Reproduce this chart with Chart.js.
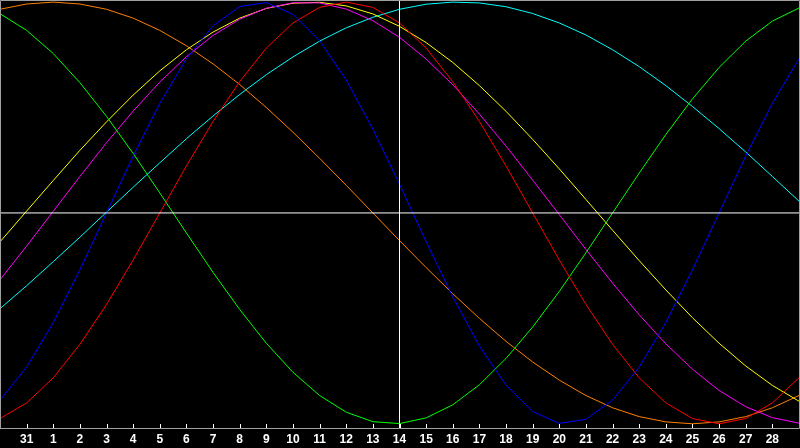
<!DOCTYPE html>
<html><head><meta charset="utf-8">
<script src="https://cdn.jsdelivr.net/npm/chart.js@4.4.1/dist/chart.umd.min.js"></script>
<style>
html,body{margin:0;padding:0;background:#000;overflow:hidden}
#wrap{width:800px;height:448px;position:relative;background:#000}
canvas{display:block}
</style>
</head><body>
<div id="wrap"><canvas id="c" width="800" height="448"></canvas></div>
<script>
const days = ['30','31','1','2','3','4','5','6','7','8','9','10','11','12','13','14','15','16','17','18','19','20','21','22','23','24','25','26','27','28','29'];
const today = '14';
const physical = [-0.888,-0.731,-0.520,-0.270,0,0.270,0.520,0.731,0.888,0.979,0.998,0.942,0.817,0.631,0.398,0.136,-0.136,-0.398,-0.631,-0.817,-0.942,-0.998,-0.979,-0.888,-0.731,-0.520,-0.270,0,0.270,0.520,0.731];
const emotional = [-0.975,-0.901,-0.782,-0.623,-0.434,-0.223,0,0.223,0.434,0.623,0.782,0.901,0.975,1,0.975,0.901,0.782,0.623,0.434,0.223,0,-0.223,-0.434,-0.623,-0.782,-0.901,-0.975,-1,-0.975,-0.901,-0.782];
const intellectual = [0.945,0.866,0.756,0.618,0.458,0.282,0.095,-0.095,-0.282,-0.458,-0.618,-0.756,-0.866,-0.945,-0.990,-0.999,-0.972,-0.910,-0.815,-0.690,-0.541,-0.372,-0.189,0,0.189,0.372,0.541,0.690,0.815,0.910,0.972];
const intuitive = [-0.317,-0.157,0.008,0.173,0.333,0.483,0.621,0.741,0.842,0.919,0.971,0.997,0.996,0.967,0.912,0.833,0.730,0.608,0.469,0.317,0.156,-0.008,-0.173,-0.333,-0.483,-0.621,-0.741,-0.842,-0.919,-0.971,-0.997];
const aesthetic = [-0.137,0.009,0.154,0.297,0.432,0.559,0.674,0.774,0.858,0.924,0.970,0.995,0.999,0.982,0.944,0.885,0.808,0.714,0.604,0.482,0.349,0.209,0.064,-0.082,-0.226,-0.365,-0.497,-0.618,-0.726,-0.818,-0.893];
const awareness = [0.966,0.991,1,0.991,0.966,0.924,0.866,0.793,0.707,0.609,0.5,0.383,0.259,0.131,0,-0.131,-0.259,-0.383,-0.5,-0.609,-0.707,-0.793,-0.866,-0.924,-0.966,-0.991,-1,-0.991,-0.966,-0.924,-0.866];
const spiritual = [-0.454,-0.345,-0.231,-0.115,0.004,0.122,0.238,0.352,0.460,0.562,0.656,0.740,0.815,0.878,0.928,0.966,0.990,1.000,0.996,0.978,0.946,0.901,0.844,0.774,0.694,0.604,0.505,0.400,0.289,0.173,0.056];

const Y_MIN = -1.02, Y_MAX = 1.01;
const GRAY = '#a0a0a0';

function curve(data, color) {
  return {type:'line', data, borderColor:color, borderWidth:1, pointRadius:0, pointHoverRadius:0, tension:0, fill:false};
}

const datasets = [
  {type:'line', data:[{x:days[0],y:0},{x:days[days.length-1],y:0}], borderColor:'#ffffff', borderWidth:1, pointRadius:0, pointHoverRadius:0},
  {type:'line', data:[{x:today,y:Y_MIN},{x:today,y:Y_MAX}], borderColor:'#ffffff', borderWidth:1, pointRadius:0, pointHoverRadius:0},
  curve(physical, '#0000ff'),
  curve(emotional, '#ff0000'),
  curve(intellectual, '#00ff00'),
  curve(intuitive, '#ff00ff'),
  curve(aesthetic, '#ffff00'),
  curve(awareness, '#ff8000'),
  curve(spiritual, '#00ffff')
];

// frame around plot area and inward tick marks, placed from the x scale's own tick pixels
const framePlugin = {
  id:'frame',
  afterDraw(chart){
    const {ctx, chartArea:a, scales:{x}} = chart;
    ctx.save();
    ctx.lineWidth = 1;
    ctx.strokeStyle = GRAY;
    ctx.beginPath();
    ctx.moveTo(a.left+0.5, a.bottom+0.5);
    ctx.lineTo(a.left+0.5, 0.5);
    ctx.lineTo(a.right+0.5, 0.5);
    ctx.lineTo(a.right+0.5, a.bottom+0.5);
    ctx.lineTo(a.left, a.bottom+0.5);
    ctx.stroke();
    ctx.strokeStyle = '#ffffff';
    ctx.beginPath();
    for (let i = 1; i < days.length-1; i++) {
      const px = Math.round(x.getPixelForTick(i)) + 0.5;
      ctx.moveTo(px, a.bottom);
      ctx.lineTo(px, a.bottom-4);
    }
    ctx.stroke();
    ctx.restore();
  }
};

new Chart(document.getElementById('c'), {
  type:'line',
  data:{labels:days, datasets},
  plugins:[framePlugin],
  options:{
    responsive:false, animation:false, devicePixelRatio:1,
    layout:{autoPadding:false, padding:{left:0,right:1,top:0,bottom:-4}},
    plugins:{legend:{display:false}, tooltip:{enabled:false}},
    scales:{
      x:{type:'category', position:'bottom', offset:false,
         border:{display:false},
         grid:{display:false, drawTicks:false, tickLength:0},
         ticks:{color:'#ffffff', autoSkip:false, maxRotation:0, minRotation:0, padding:0,
           font:{family:'Liberation Sans', weight:'bold', size:12, lineHeight:'24px'},
           callback:function(v,i){ return (i===0||i===days.length-1)?'':days[i]; }}},
      y:{type:'linear', display:false, min:Y_MIN, max:Y_MAX}
    }
  }
});
</script>
</body></html>
